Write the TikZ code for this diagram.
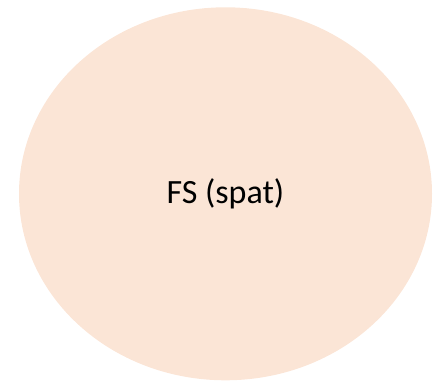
\documentclass[tikz,border=0pt]{standalone}
\usepackage{fontspec}
\setmainfont{Carlito}
\usetikzlibrary{shapes.geometric}
\definecolor{peach}{HTML}{FBE5D6}

\begin{document}
\begin{tikzpicture}[x=1pt, y=1pt,
    blob/.style={ellipse, fill=peach, draw=none, inner sep=0pt, minimum width=413pt, minimum height=373pt, font=\fontsize{34}{41}\selectfont}
]
\useasboundingbox (0,0) rectangle (444,382);

% Spatial feature set
\node[blob] (fs) at (225.5,188.2) {FS (spat)};

\end{tikzpicture}
\end{document}
